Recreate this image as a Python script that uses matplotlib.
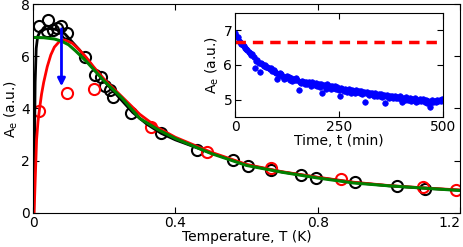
import numpy as np
import matplotlib
matplotlib.use('Agg')
import matplotlib.pyplot as plt

plt.rcParams['font.family'] = ['DejaVu Sans']
plt.rcParams['font.size'] = 10
plt.rcParams['xtick.direction'] = 'in'
plt.rcParams['ytick.direction'] = 'in'
plt.rcParams['xtick.top'] = True
plt.rcParams['ytick.right'] = True
plt.rcParams['xtick.major.size'] = 4
plt.rcParams['ytick.major.size'] = 4
plt.rcParams['xtick.major.pad'] = 2
plt.rcParams['ytick.major.pad'] = 2

# Main panel: measured points (T in K, A_e in a.u.)
black_T = [0.018, 0.038, 0.043, 0.057, 0.067, 0.078, 0.095, 0.146, 0.174, 0.190,
           0.202, 0.215, 0.224, 0.274, 0.360, 0.460, 0.563, 0.604, 0.670, 0.753,
           0.796, 0.905, 1.024, 1.102]
black_A = [7.14, 6.95, 7.37, 7.00, 7.08, 7.14, 6.88, 5.96, 5.30, 5.20,
           4.85, 4.70, 4.45, 3.82, 3.08, 2.40, 2.03, 1.78, 1.64, 1.46,
           1.35, 1.19, 1.03, 0.93]

red_T = [0.018, 0.095, 0.170, 0.333, 0.488, 0.668, 0.865, 1.097, 1.190]
red_A = [3.90, 4.61, 4.76, 3.29, 2.35, 1.71, 1.29, 0.98, 0.88]

# fitted curves
black_fit_T = [0.002, 0.004, 0.006, 0.009, 0.013, 0.02, 0.03, 0.045, 0.06, 0.075,
               0.09, 0.11, 0.13, 0.15, 0.17, 0.2, 0.22, 0.25, 0.28, 0.32,
               0.36, 0.4, 0.5, 0.6, 0.7, 0.8, 0.9, 1.0, 1.1, 1.2]
black_fit_A = [0.0, 2.5, 5.0, 6.3, 6.75, 6.95, 7.03, 7.06, 7.04, 6.98,
               6.85, 6.55, 6.25, 5.92, 5.55, 5.05, 4.75, 4.3, 3.85, 3.4,
               3.05, 2.8, 2.3, 1.84, 1.57, 1.36, 1.17, 1.04, 0.95, 0.87]

red_fit_T = [0.003, 0.006, 0.01, 0.014, 0.018, 0.024, 0.03, 0.04, 0.05, 0.06,
             0.075, 0.09, 0.11, 0.13, 0.15, 0.17, 0.2, 0.25, 0.3, 0.35,
             0.4, 0.5, 0.6, 0.7, 0.8, 0.9, 1.0, 1.1, 1.2]
red_fit_A = [0.0, 1.2, 2.8, 3.5, 3.95, 4.55, 5.0, 5.6, 6.05, 6.35,
             6.58, 6.62, 6.5, 6.25, 5.95, 5.6, 5.12, 4.45, 3.78, 3.27,
             2.9, 2.33, 1.86, 1.58, 1.37, 1.18, 1.05, 0.96, 0.88]

green_fit_T = [0.0, 0.03, 0.06, 0.08, 0.10, 0.12, 0.15, 0.20, 0.25, 0.30,
               0.35, 0.40, 0.50, 0.60, 0.70, 0.80, 0.90, 1.00, 1.10, 1.20]
green_fit_A = [6.72, 6.71, 6.66, 6.58, 6.44, 6.20, 5.80, 5.05, 4.40, 3.62,
               3.20, 2.85, 2.28, 1.82, 1.56, 1.34, 1.15, 1.04, 0.95, 0.86]

# blue arrow (T, A from -> A to)
arrow_T = 0.08
arrow_from = 7.05
arrow_to = 4.85

main_xticks = [0, 0.4, 0.8, 1.2]
main_xlabels = ['0', '0.4', '0.8', '1.2']
main_yticks = [0, 2, 4, 6, 8]

# Inset: A_e vs time, one sample every 3 min
time_min = np.arange(0, 500, 3)
inset_A = [6.92, 6.85, 6.80, 6.70, 6.66, 6.62, 6.58, 6.55, 6.50, 6.47,
           6.44, 6.38, 6.35, 6.30, 6.31, 6.22, 5.92, 6.12, 6.14, 6.06,
           5.80, 6.05, 6.02, 5.98, 6.00, 5.93, 5.95, 5.90, 5.88, 5.92,
           5.84, 5.86, 5.80, 5.76, 5.60, 5.70, 5.78, 5.74, 5.68, 5.60,
           5.66, 5.62, 5.68, 5.64, 5.58, 5.62, 5.55, 5.60, 5.58, 5.62,
           5.56, 5.28, 5.52, 5.48, 5.55, 5.50, 5.46, 5.52, 5.44, 5.50,
           5.47, 5.40, 5.52, 5.45, 5.42, 5.48, 5.40, 5.44, 5.36, 5.46,
           5.18, 5.42, 5.38, 5.30, 5.44, 5.36, 5.40, 5.32, 5.38, 5.35,
           5.40, 5.30, 5.36, 5.28, 5.12, 5.34, 5.30, 5.26, 5.32, 5.28,
           5.22, 5.30, 5.26, 5.20, 5.28, 5.24, 5.18, 5.27, 5.22, 5.25,
           5.20, 5.24, 5.16, 5.22, 4.94, 5.18, 5.21, 5.14, 5.20, 5.16,
           5.18, 5.12, 5.20, 5.14, 5.10, 5.17, 5.12, 5.15, 5.08, 5.14,
           4.90, 5.10, 5.14, 5.06, 5.12, 5.08, 5.11, 5.04, 5.10, 5.06,
           5.08, 5.04, 5.10, 5.02, 4.92, 5.06, 5.00, 5.08, 5.03, 4.98,
           5.05, 4.96, 5.02, 4.98, 5.06, 4.94, 5.00, 4.97, 5.03, 4.95,
           4.98, 5.02, 4.94, 4.98, 4.90, 4.96, 4.80, 4.92, 4.98, 4.94,
           4.97, 4.92, 4.98, 4.95, 5.00, 4.96, 5.02]
plateau = 6.65  # red dashed reference level

inset_xticks = [0, 250, 500]
inset_yticks = [5, 6, 7]

fig = plt.figure(figsize=(4.63, 2.47), dpi=100)
ax = fig.add_axes([0.0713, 0.1377, 0.9222, 0.8461])

ax.plot(black_T, black_A, 'o', mfc='none', mec='k', ms=8, mew=1.5)
ax.plot(red_T, red_A, 'o', mfc='none', mec='r', ms=8, mew=1.5)
ax.plot(black_fit_T, black_fit_A, '-', color='k', lw=2)
ax.plot(red_fit_T, red_fit_A, '-', color='r', lw=2)
ax.plot(green_fit_T, green_fit_A, '-', color='g', lw=2.2)
ax.annotate('', xy=(arrow_T, arrow_to), xytext=(arrow_T, arrow_from),
            arrowprops=dict(arrowstyle='-|>', color='b', lw=2, mutation_scale=11,
                            shrinkA=0, shrinkB=0))

ax.set_xlim(0, 1.2)
ax.set_ylim(0, 8)
ax.set_xticks(main_xticks)
ax.set_xticklabels(main_xlabels)
ax.get_xticklabels()[-1].set_ha('right')
ax.set_yticks(main_yticks)
ax.set_xlabel('Temperature, T (K)', labelpad=0)
ax.set_ylabel(r'A$_\mathregular{e}$ (a.u.)', labelpad=1)

# inset
ins = fig.add_axes([0.5076, 0.5263, 0.4492, 0.4211])
ins.plot(time_min, inset_A, 'o', color='b', mec='b', ms=4, mew=0.5)
ins.axhline(plateau, color='r', ls='--', lw=2.5, dashes=(3, 2))
ins.set_xlim(0, 500)
ins.set_ylim(4.5, 7.5)
ins.set_xticks(inset_xticks)
ins.set_yticks(inset_yticks)
ins.set_xlabel('Time, t (min)', labelpad=0)
ins.set_ylabel(r'A$_\mathregular{e}$ (a.u.)', labelpad=2)

fig.savefig('out.png', dpi=100)
